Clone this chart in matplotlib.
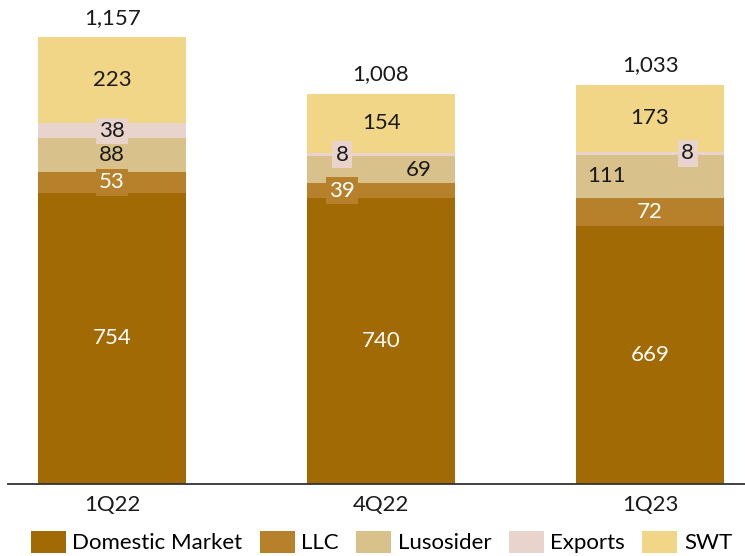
import matplotlib

matplotlib.use("Agg")
import matplotlib.pyplot as plt
import numpy as np

plt.rcParams["font.family"] = ["Lato", "DejaVu Sans"]

quarters = ["1Q22", "4Q22", "1Q23"]
series_names = ["Domestic Market", "LLC", "Lusosider", "Exports", "SWT"]
domestic = [754, 740, 669]
llc = [53, 39, 72]
lusosider = [88, 69, 111]
exports = [38, 8, 8]
swt = [223, 154, 173]
totals = [1157, 1008, 1033]

colors = ["#A26A04", "#B7812C", "#D9C18B", "#E9D3CD", "#F2D688"]
text_dark = "#1a1a1a"
fs = 16

# per-label horizontal nudge (in category units) and whether to box the label
label_dx = {
    (1, 1): -0.145, (3, 1): -0.145, (2, 1): 0.14,
    (2, 2): -0.16, (3, 2): 0.14,
}
boxed = {(1, 0), (3, 0), (1, 1), (3, 1), (3, 2)}
white_text = {0, 1}

fig = plt.figure(figsize=(7.45, 5.56), dpi=100)
ax = fig.add_axes([8 / 745, 72 / 556, 737 / 745, 484 / 556])

x = np.arange(len(quarters))
stack = [domestic, llc, lusosider, exports, swt]
bottom = np.zeros(len(quarters))
for s, (vals, name, col) in enumerate(zip(stack, series_names, colors)):
    vals = np.array(vals, dtype=float)
    ax.bar(x, vals, width=0.55, bottom=bottom, color=col, label=name,
           edgecolor="none")
    for i, v in enumerate(vals):
        cx = x[i] + label_dx.get((s, i), 0.0)
        cy = bottom[i] + v / 2
        kw = {}
        if (s, i) in boxed:
            kw["bbox"] = dict(boxstyle="square,pad=0.15", fc=col, ec="none")
        ax.text(cx, cy, f"{int(v)}", ha="center", va="center", fontsize=fs,
                color="white" if s in white_text else text_dark, **kw)
    bottom += vals

for i, t in enumerate(totals):
    ax.annotate(f"{t:,}", (x[i], bottom[i]), xytext=(0, 14),
                textcoords="offset points", ha="center", va="center",
                fontsize=fs, color=text_dark)

ax.set_xlim(-0.387, 2.353)
ax.set_ylim(0, 1252.6)
ax.set_xticks(x)
ax.set_xticklabels(quarters, fontsize=fs, color=text_dark)
ax.tick_params(axis="x", length=0, pad=8)
ax.set_yticks([])
for side in ("top", "right", "left"):
    ax.spines[side].set_visible(False)
ax.spines["bottom"].set_color("#333333")
ax.spines["bottom"].set_linewidth(1.3)

handles, labels = ax.get_legend_handles_labels()
fig.legend(handles, labels, loc="center", bbox_to_anchor=(0.512, 0.025),
           ncol=5, frameon=False, fontsize=fs, handlelength=1.58,
           handleheight=1.13, handletextpad=0.3, columnspacing=0.77,
           borderaxespad=0, borderpad=0)

fig.savefig("out.png", dpi=100)
